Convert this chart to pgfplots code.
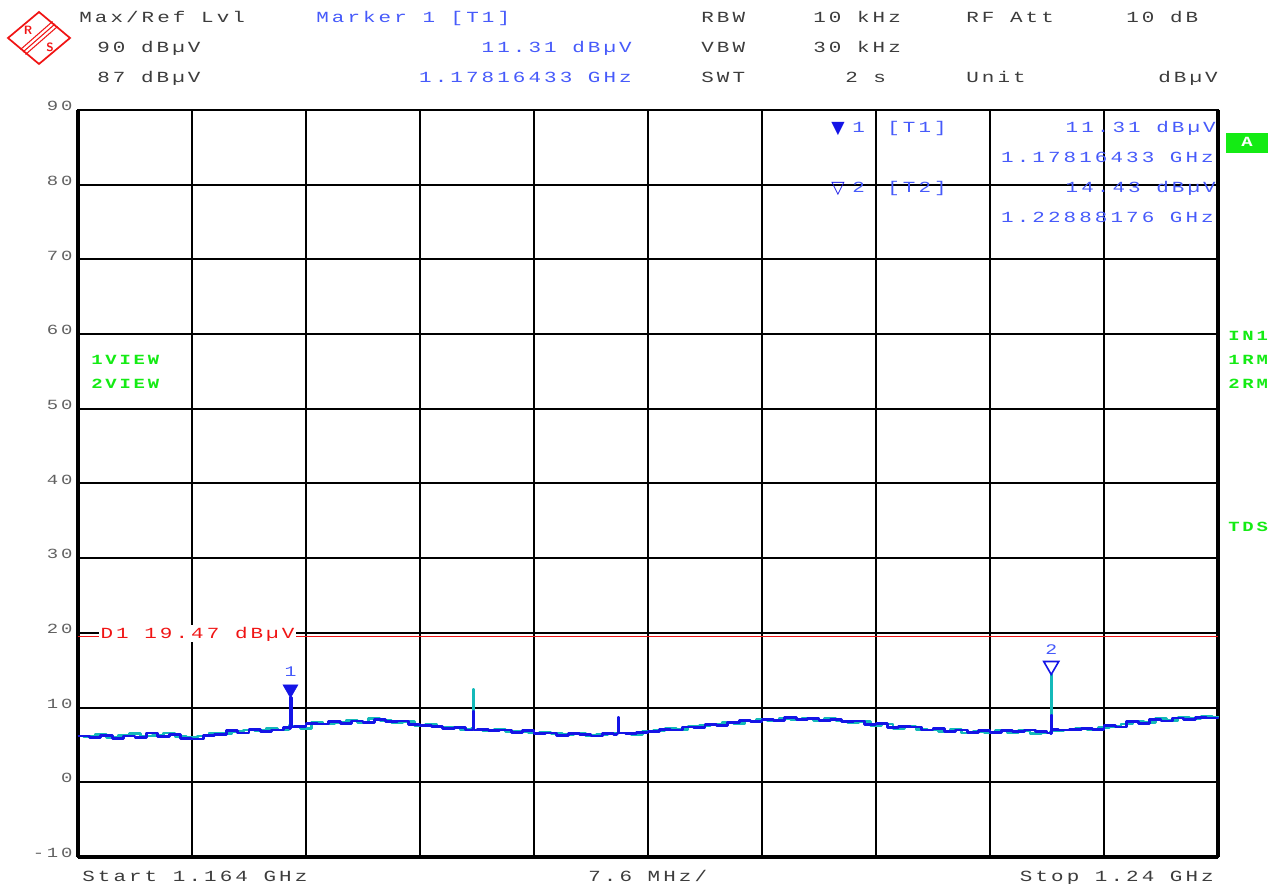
\documentclass[border=0pt]{standalone}
\usepackage{pgfplots}
\pgfplotsset{compat=1.18}
\usepackage{fontspec}
\newfontfamily\rsf[FakeStretch=1.35,LetterSpace=20]{Liberation Mono}
\newfontfamily\symf{DejaVu Sans}

\definecolor{trA}{RGB}{20,20,230}
\definecolor{trB}{RGB}{20,185,185}
\definecolor{mkblue}{RGB}{70,90,250}
\definecolor{hdr}{RGB}{60,60,60}
\definecolor{rsgreen}{RGB}{20,235,20}
\definecolor{rsred}{RGB}{240,20,20}

\tikzset{
  px/.style={x=0.75pt, y=-0.75pt},
  hd/.style={anchor=base west, inner sep=0pt, font={\rsf\fontsize{11.6}{12}\selectfont}, text=hdr},
  hdr/.style={hd, anchor=base east},
  gr/.style={anchor=base west, inner sep=0pt, font={\rsf\bfseries\fontsize{10.5}{11}\selectfont}, text=rsgreen},
}

\begin{document}
\begin{tikzpicture}
\useasboundingbox (0,0) rectangle (954pt,-663pt);

\begin{scope}[px]
% R&S logo
\draw[rsred, line width=1.3pt] (39,12)--(70,38)--(39,64)--(8,38)--cycle;
\foreach \d in {-2.5,0,2.5}
  \draw[rsred, line width=0.8pt] (55+\d,24+\d)--(23+\d,52+\d);
\node[text=rsred, font={\sffamily\bfseries\fontsize{9}{9}\selectfont}] at (28,30) {R};
\node[text=rsred, font={\sffamily\bfseries\fontsize{9}{9}\selectfont}] at (50,47) {S};

% header
\node[hd] at (79,23) {Max/Ref Lvl};
\node[hd, text=mkblue] at (316,23) {Marker 1 [T1]};
\node[hd] at (701,23) {RBW};
\node[hd] at (813,23) {10 kHz};
\node[hd] at (966,23) {RF Att};
\node[hd] at (1126,23) {10 dB};
\node[hd] at (97,53) {90 dBµV};
\node[hdr, text=mkblue] at (632,53) {11.31 dBµV};
\node[hd] at (701,53) {VBW};
\node[hd] at (813,53) {30 kHz};
\node[hd] at (97,83) {87 dBµV};
\node[hdr, text=mkblue] at (632,83) {1.17816433 GHz};
\node[hd] at (701,83) {SWT};
\node[hd] at (845,83) {2 s};
\node[hd] at (966,83) {Unit};
\node[hdr] at (1218,83) {dBµV};
\end{scope}

\begin{axis}[
  at={(58.5pt,-642.75pt)}, anchor=south west,
  scale only axis, width=855pt, height=560.25pt,
  xmin=1164, xmax=1240, ymin=-10, ymax=90,
  xtick={1171.6,1179.2,1186.8,1194.4,1202,1209.6,1217.2,1224.8,1232.4},
  xticklabels={},
  ytick={-10,0,10,20,30,40,50,60,70,80,90},
  yticklabels={-10,0,10,20,30,40,50,60,70,80,90},
  grid=major, major grid style={line width=1.5pt, black},
  major tick length=0pt,
  axis line style={line width=2.2pt, black},
  yticklabel style={anchor=base east, inner sep=0pt, xshift=-4pt, yshift=-0.5pt,
    font={\rsf\fontsize{10.5}{10}\selectfont}, text=black!62},
  /pgf/number format/assume math mode=true,
  clip=false,
]
\draw[line width=2.2pt] (axis cs:1202,-10) -- (axis cs:1202,90);
\draw[line width=3.4pt] (axis cs:1164,-10) -- (axis cs:1164,90);
\draw[line width=3.4pt] (axis cs:1240,-10) -- (axis cs:1240,90);
\draw[line width=3.4pt] (axis cs:1164,-10) -- (axis cs:1240,-10);

% display line D1
\addplot[rsred, line width=0.9pt] coordinates {(1164,19.47) (1240,19.47)};

% trace 2 (cyan)
\addplot[trB, line width=2pt, const plot, line join=round] coordinates {
(1164.00,6.2)(1164.38,6.1)(1165.14,6.4)(1165.90,6.0)(1166.66,6.3)(1167.42,6.5)
(1168.18,6.2)(1168.94,6.3)(1169.70,6.6)(1170.46,6.1)(1171.22,6.0)(1171.98,6.2)
(1172.74,6.6)(1173.50,6.5)(1174.26,6.8)(1175.02,7.0)(1175.78,6.9)(1176.54,7.2)
(1177.30,7.0)(1178.06,7.6)(1178.12,7.3)(1178.16,10.6)(1178.20,7.5)(1178.82,7.2)
(1179.58,8.0)(1180.34,7.8)(1181.10,8.0)(1181.86,8.3)(1182.62,8.0)(1183.38,8.5)
(1184.14,8.3)(1184.90,8.0)(1185.66,8.1)(1186.42,7.6)(1187.18,7.7)(1187.94,7.4)
(1188.70,7.3)(1189.46,7.1)(1190.22,7.2)(1190.30,7.1)(1190.33,12.4)(1190.40,7.0)
(1190.98,6.9)(1191.74,7.1)(1192.50,6.8)(1193.26,6.8)(1194.02,6.6)(1194.78,6.7)
(1195.54,6.5)(1196.30,6.4)(1197.06,6.6)(1197.82,6.3)(1198.58,6.4)(1199.34,6.6)
(1200.10,6.6)(1200.86,6.4)(1201.62,6.8)(1202.38,6.9)(1203.14,7.2)(1203.90,7.1)
(1204.66,7.5)(1205.42,7.6)(1206.18,7.7)(1206.94,8.0)(1207.70,7.9)(1208.46,8.2)
(1209.22,8.4)(1209.98,8.2)(1210.74,8.5)(1211.50,8.4)(1212.26,8.6)(1213.02,8.3)
(1213.78,8.5)(1214.54,8.2)(1215.30,8.0)(1216.06,8.1)(1216.82,7.6)(1217.58,7.8)
(1218.34,7.2)(1219.10,7.5)(1219.86,7.1)(1220.62,7.0)(1221.38,6.8)(1222.14,7.1)
(1222.90,6.6)(1223.66,6.8)(1224.42,6.6)(1225.18,6.9)(1225.94,6.7)(1226.70,6.9)
(1227.46,6.5)(1228.22,6.6)(1228.82,6.8)(1228.88,14.43)(1228.94,6.9)(1229.74,7.0)
(1230.50,7.2)(1231.26,7.0)(1232.02,7.3)(1232.78,7.5)(1233.54,7.8)(1234.30,8.2)
(1235.06,8.0)(1235.82,8.5)(1236.58,8.3)(1237.34,8.7)(1238.10,8.5)(1238.86,8.8)
(1239.62,8.7)(1240.00,8.9)
};

% trace 1 (blue)
\addplot[trA, line width=2pt, const plot, line join=round] coordinates {
(1164.00,6.2)(1164.76,6.0)(1165.52,6.3)(1166.28,5.9)(1167.04,6.2)(1167.80,6.0)
(1168.56,6.6)(1169.32,6.1)(1170.08,6.4)(1170.84,5.9)(1171.60,5.8)(1172.36,6.3)
(1173.12,6.4)(1173.88,6.9)(1174.64,6.6)(1175.40,7.1)(1176.16,6.8)(1176.92,7.0)
(1177.68,7.3)(1178.10,7.2)(1178.16,11.31)(1178.22,7.4)(1178.44,7.5)(1179.20,7.9)
(1179.96,7.8)(1180.72,8.1)(1181.48,7.9)(1182.24,8.2)(1183.00,8.0)(1183.76,8.4)
(1184.52,8.1)(1185.28,8.2)(1186.04,7.7)(1186.80,7.6)(1187.56,7.5)(1188.32,7.2)
(1189.08,7.3)(1189.84,7.0)(1190.27,7.1)(1190.33,9.5)(1190.39,7.0)(1190.60,7.1)
(1191.36,6.9)(1192.12,7.0)(1192.88,6.7)(1193.64,6.9)(1194.40,6.5)(1195.16,6.6)
(1195.92,6.3)(1196.68,6.5)(1197.44,6.4)(1198.20,6.2)(1198.96,6.5)(1199.72,6.4)
(1199.94,6.5)(1200.00,8.7)(1200.06,6.6)(1200.48,6.5)(1201.24,6.7)(1202.00,6.8)
(1202.76,7.1)(1203.52,7.0)(1204.28,7.4)(1205.04,7.3)(1205.80,7.7)(1206.56,7.6)
(1207.32,8.0)(1208.08,8.3)(1208.84,8.1)(1209.60,8.4)(1210.36,8.3)(1211.12,8.7)
(1211.88,8.4)(1212.64,8.5)(1213.40,8.3)(1214.16,8.4)(1214.92,8.1)(1215.68,8.2)
(1216.44,7.7)(1217.20,7.9)(1217.96,7.3)(1218.72,7.5)(1219.48,7.4)(1220.24,7.0)
(1221.00,7.2)(1221.76,6.8)(1222.52,7.0)(1223.28,6.7)(1224.04,6.9)(1224.80,6.7)
(1225.56,6.9)(1226.32,6.8)(1227.08,7.0)(1227.84,6.8)(1228.60,6.6)(1228.82,6.5)
(1228.88,9.0)(1228.94,7.1)(1229.36,7.0)(1230.12,7.1)(1230.88,7.2)(1231.64,7.1)
(1232.40,7.6)(1233.16,7.4)(1233.92,8.1)(1234.68,7.9)(1235.44,8.4)(1236.20,8.2)
(1236.96,8.6)(1237.72,8.4)(1238.48,8.7)(1239.24,8.6)(1240.00,8.8)
};

% markers
\addplot[only marks, mark=triangle*, color=trA, mark size=6.5pt,
  mark options={yshift=6.5pt, rotate=180}] coordinates {(1178.16433,11.31)};
\addplot[only marks, mark=triangle, color=trA, mark size=6.5pt,
  mark options={yshift=6.5pt, rotate=180, line width=1.2pt}] coordinates {(1228.88176,14.43)};
\node[anchor=base, inner sep=0pt, text=mkblue, font={\rsf\fontsize{11}{11}\selectfont}, yshift=16pt]
  at (axis cs:1178.16433,11.31) {1};
\node[anchor=base, inner sep=0pt, text=mkblue, font={\rsf\fontsize{11}{11}\selectfont}, yshift=15pt]
  at (axis cs:1228.88176,14.43) {2};
\end{axis}

\begin{scope}[px]
% D1 label
\node[anchor=base west, inner sep=1pt, fill=white, text=rsred, font={\rsf\fontsize{11.6}{12}\selectfont}] at (99,638) {D1 19.47 dBµV};

% marker table
\node[anchor=base west, inner sep=0pt, text=trA, font={\symf\fontsize{13}{13}\selectfont}] at (831,134) {▼};
\node[hd, text=mkblue] at (852,133) {1};
\node[hd, text=mkblue] at (887,133) {[T1]};
\node[hdr, text=mkblue] at (1216,133) {11.31 dBµV};
\node[hdr, text=mkblue] at (1214,163) {1.17816433 GHz};
\node[anchor=base west, inner sep=0pt, text=trA, font={\symf\bfseries\fontsize{13}{13}\selectfont}] at (831,194) {▽};
\node[hd, text=mkblue] at (852,193) {2};
\node[hd, text=mkblue] at (887,193) {[T2]};
\node[hdr, text=mkblue] at (1216,193) {14.43 dBµV};
\node[hdr, text=mkblue] at (1214,223) {1.22888176 GHz};

% side annotations
\fill[rsgreen] (1226,133) rectangle (1268,153);
\node[gr, text=white, anchor=base] at (1247,147) {A};
\node[gr] at (1228,341) {IN1};
\node[gr] at (1228,365) {1RM};
\node[gr] at (1228,389) {2RM};
\node[gr] at (1228,531) {TDS};
\node[gr] at (91,365) {1VIEW};
\node[gr] at (91,389) {2VIEW};

% footer
\node[hd] at (82,881) {Start 1.164 GHz};
\node[hd] at (588,881) {7.6 MHz/};
\node[hdr] at (1214,881) {Stop 1.24 GHz};
\end{scope}
\end{tikzpicture}
\end{document}
